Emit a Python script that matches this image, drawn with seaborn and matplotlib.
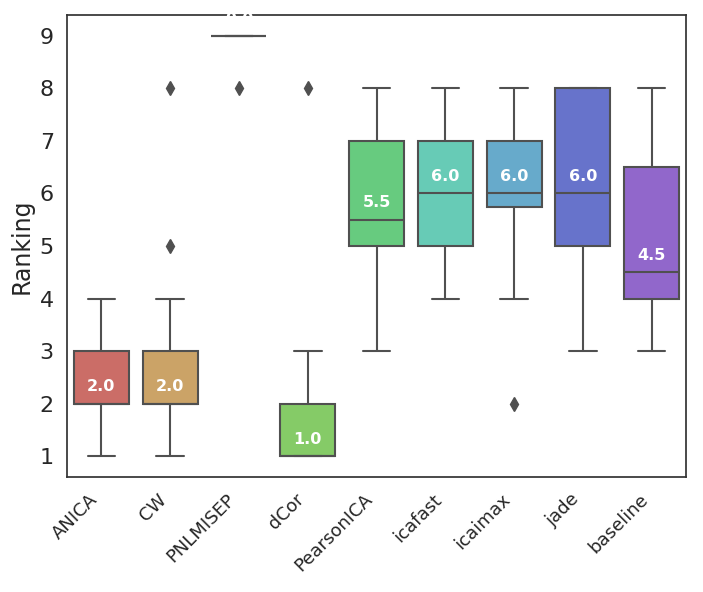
import numpy as np
import pandas as pd
import matplotlib
matplotlib.use("Agg")
import matplotlib.pyplot as plt
import seaborn as sns

methods = ["ANICA", "CW", "PNLMISEP", "dCor", "PearsonICA", "icafast", "icaimax", "jade", "baseline"]

rank_anica = [1, 1, 2, 2, 2, 2, 2, 3, 3, 3, 4, 4]
rank_cw = [1, 2, 2, 2, 2, 2, 2, 3, 3, 3, 4, 5, 8]
rank_pnlmisep = [8, 9, 9, 9, 9, 9, 9, 9, 9, 9, 9, 9]
rank_dcor = [1, 1, 1, 1, 1, 1, 1, 2, 2, 2, 3, 8]
rank_pearsonica = [3, 4, 5, 5, 5, 5, 6, 7, 7, 7, 8, 8]
rank_icafast = [4, 4, 5, 5, 6, 6, 6, 7, 7, 7, 8, 8]
rank_icaimax = [2, 4, 5, 6, 6, 6, 6, 6, 7, 7, 7, 8]
rank_jade = [3, 4, 5, 5, 5, 6, 6, 7, 8, 8, 8, 8]
rank_baseline = [3, 3, 4, 4, 4, 4, 5, 5, 6, 8, 8, 8]

all_ranks = [rank_anica, rank_cw, rank_pnlmisep, rank_dcor, rank_pearsonica,
             rank_icafast, rank_icaimax, rank_jade, rank_baseline]

rows = []
for m, r in zip(methods, all_ranks):
    for v in r:
        rows.append({"Method": m, "Ranking": v})
df = pd.DataFrame(rows)

sns.set_theme(style="white")
fig = plt.figure(figsize=(7.03, 5.92), dpi=100)
ax = fig.add_axes([0.0953, 0.194, 0.8807, 0.781])

pal = sns.color_palette("hls", 11)[:len(methods)]
line_gray = "#505050"
sns.boxplot(data=df, x="Method", y="Ranking", hue="Method", order=methods,
            hue_order=methods, palette=pal, legend=False, ax=ax,
            linecolor=line_gray,
            flierprops=dict(marker="d", markersize=7, markerfacecolor=line_gray,
                            markeredgecolor=line_gray),
            linewidth=1.5)

medians = df.groupby("Method")["Ranking"].median().reindex(methods)
for i, m in enumerate(methods):
    ax.text(i, medians[m] + 0.32, f"{medians[m]:.1f}", ha="center", va="center",
            color="white", fontsize=11.5, fontweight="bold")

ax.set_xlabel("")
ax.set_ylabel("Ranking", fontsize=17)
ax.tick_params(axis="y", labelsize=16)
ax.tick_params(axis="x", labelsize=13)
plt.setp(ax.get_xticklabels(), rotation=45, ha="right")
for s in ax.spines.values():
    s.set_color("#333333")
    s.set_linewidth(1.25)

fig.savefig("out.png", dpi=100)
